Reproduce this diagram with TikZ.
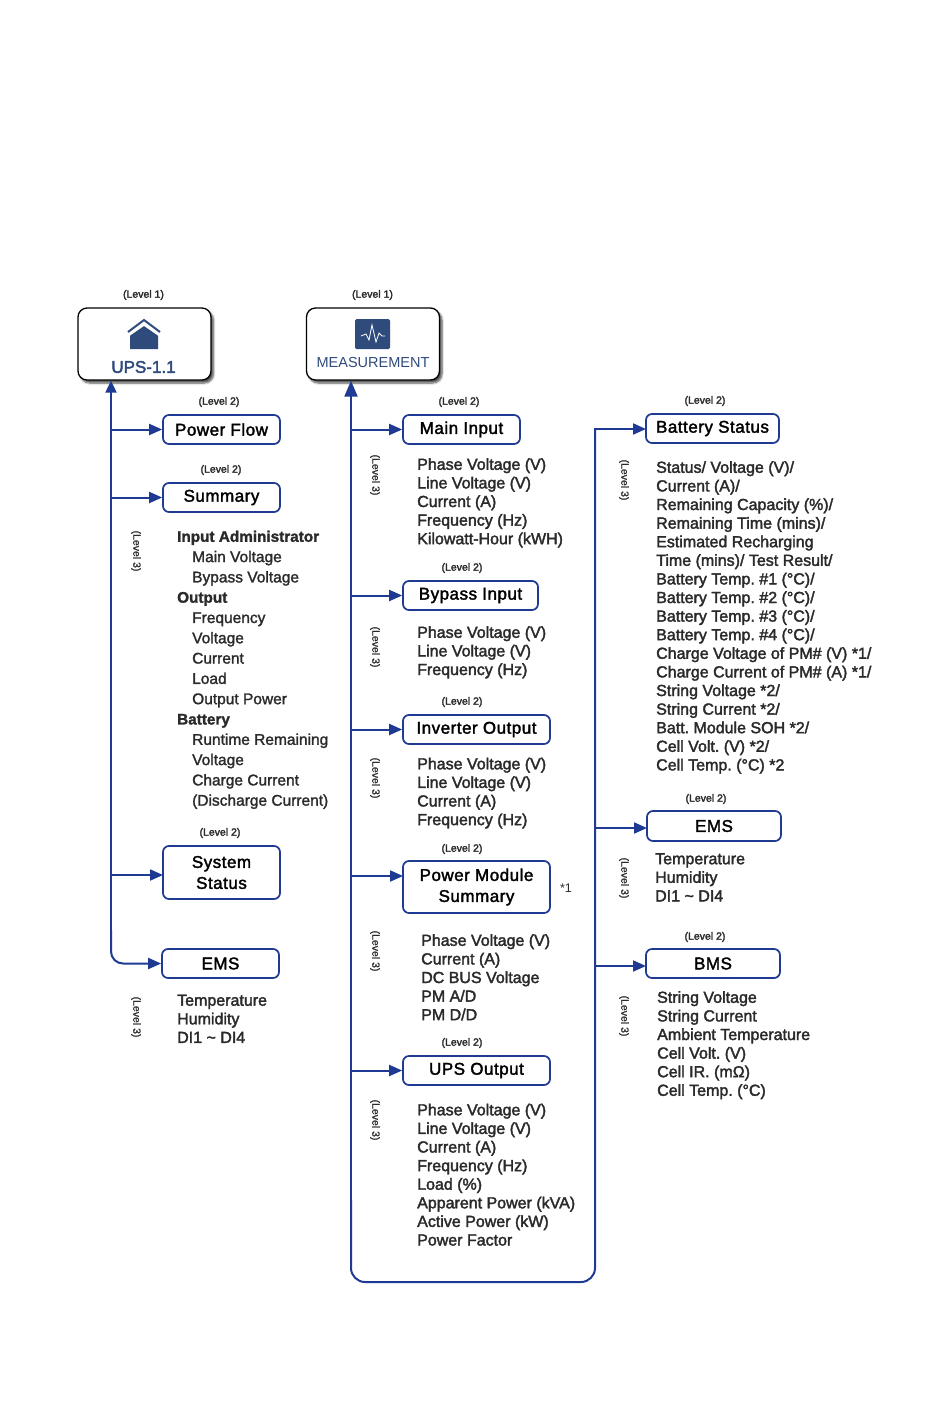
\documentclass[tikz,border=0pt]{standalone}
\usepackage{fontspec}
\setmainfont{Liberation Sans}
\usetikzlibrary{arrows.meta,shadows.blur,calc}
\definecolor{ln}{HTML}{1F3A93}
\definecolor{nav}{HTML}{2F4B7C}
\definecolor{ink}{HTML}{2A2A2A}
\frenchspacing
\tikzset{
 x=1pt,y=-1pt,
 boxn/.style={draw=ln,line width=1.7pt,rounded corners=6pt,fill=white,text=black,align=center,inner sep=0pt,font=\fontsize{17}{21}\selectfont\addfontfeature{FakeBold=2,LetterSpace=3}},
 topn/.style={draw=black,line width=1.3pt,rounded corners=9pt,fill=white,inner sep=0pt,minimum width=133pt,minimum height=72pt,blur shadow={shadow xshift=2.5pt,shadow yshift=-3pt,shadow blur steps=6,shadow blur radius=2pt,shadow opacity=70}},
 lvl/.style={font=\fontsize{10.5}{12}\selectfont\addfontfeature{FakeBold=2.5},text=ink,inner sep=0pt},
 lvlr/.style={font=\fontsize{10.5}{12}\selectfont\addfontfeature{FakeBold=1},text=ink,inner sep=0pt,rotate=-90},
 info/.style={anchor=north west,align=left,inner sep=0pt,text=ink,font=\fontsize{16}{18.6}\selectfont\addfontfeature{FakeBold=2.2}},
 infow/.style={info,font=\fontsize{15.5}{20.3}\selectfont\addfontfeature{FakeBold=1.6}},
 conn/.style={draw=ln,line width=2pt},
 arr/.style={conn,-{Triangle[length=13pt,width=11pt]}},
 arrb/.style={conn,-{Triangle[length=16pt,width=13pt]}},
}
\newcommand{\ind}{\hspace*{15pt}}
\newcommand{\hdr}[1]{{\fontsize{15.3}{20.3}\bfseries #1}}
\begin{document}
\begin{tikzpicture}
\useasboundingbox (0,0) rectangle (950,1406);
% top nodes
\node[topn] (ups) at (144.5,344) {};
\node[topn] (meas) at (373,344) {};
\node[inner sep=0pt,text=nav,font=\fontsize{17}{20}\selectfont\addfontfeature{FakeBold=2.5}] (upst) at (143.5,367) {UPS-1.1};
\node[inner sep=0pt,text=nav,font=\fontsize{14.5}{18}\selectfont] (meast) at (373,363) {MEASUREMENT};
% house icon
\fill[nav] (130,335) -- (144,326) -- (158,335) -- (158,349) -- (130,349) -- cycle;
\draw[nav,line width=2pt] (128,332) -- (144,320) -- (160,332);
\draw[white,line width=1.2pt] (129,335.5) -- (144,325) -- (159,335.5);
% pulse icon
\fill[nav,rounded corners=1.5pt] (355,319) rectangle (390,349);
\draw[white,line width=.8pt] (361,336) -- (366,334) -- (369,340) -- (372,325) -- (376,342) -- (379,333) -- (382,336) -- (385,336);
% level 1
\node[lvl] (l1a) at (143.5,295) {(Level 1)};
\node[lvl] (l1b) at (372.5,295) {(Level 1)};
% left boxes
\node[boxn,minimum width=117pt,minimum height=29pt] (pf) at (221.5,429.5) {Power Flow};
\node[boxn,minimum width=117pt,minimum height=29pt] (sm) at (221.5,497.5) {Summary};
\node[boxn,minimum width=117pt,minimum height=53pt] (ss) at (221.5,872.5) {System\\Status};
\node[boxn,minimum width=117pt,minimum height=29pt] (ems1) at (220.5,963.5) {EMS};
\node[lvl] (l2a) at (219,402) {(Level 2)};
\node[lvl] (l2b) at (221,470) {(Level 2)};
\node[lvl] (l2c) at (220,833) {(Level 2)};
\node[lvlr] (l3a) at (136,551) {(Level 3)};
\node[lvlr] (l3b) at (136,1017) {(Level 3)};
\node[infow] (summ) at (177,530.5) {\hdr{Input Administrator}\\\ind Main Voltage\\\ind Bypass Voltage\\\hdr{Output}\\\ind Frequency\\\ind Voltage\\\ind Current\\\ind Load\\\ind Output Power\\\hdr{Battery}\\\ind Runtime Remaining\\\ind Voltage\\\ind Charge Current\\\ind (Discharge Current)};
\node[info] (emst) at (177,994.5) {Temperature\\Humidity\\DI1 \textasciitilde{} DI4};
% middle boxes
\node[boxn,minimum width=117pt,minimum height=29pt] (mi) at (461.5,429.5) {Main Input};
\node[boxn,minimum width=135pt,minimum height=29pt] (bi) at (470.5,595.5) {Bypass Input};
\node[boxn,minimum width=147pt,minimum height=29pt] (io) at (476.5,729.5) {Inverter Output};
\node[boxn,minimum width=147pt,minimum height=52pt] (pm) at (476.5,887) {Power Module\\Summary};
\node[boxn,minimum width=147pt,minimum height=29pt] (uo) at (476.5,1070.5) {UPS Output};
\node[lvl] (m2a) at (459,402) {(Level 2)};
\node[lvl] (m2b) at (462,568) {(Level 2)};
\node[lvl] (m2c) at (462,702) {(Level 2)};
\node[lvl] (m2d) at (462,849) {(Level 2)};
\node[lvl] (m2e) at (462,1043) {(Level 2)};
\node[lvlr] (m3a) at (375,475) {(Level 3)};
\node[lvlr] (m3b) at (375,647) {(Level 3)};
\node[lvlr] (m3c) at (375,778) {(Level 3)};
\node[lvlr] (m3d) at (375,951) {(Level 3)};
\node[lvlr] (m3e) at (375,1120) {(Level 3)};
\node[info] (t1) at (417,458) {Phase Voltage (V)\\Line Voltage (V)\\Current (A)\\Frequency (Hz)\\Kilowatt-Hour (kWH)};
\node[info] (t2) at (417,626) {Phase Voltage (V)\\Line Voltage (V)\\Frequency (Hz)};
\node[info] (t3) at (417,757.5) {Phase Voltage (V)\\Line Voltage (V)\\Current (A)\\Frequency (Hz)};
\node[info] (t4) at (421,934) {Phase Voltage (V)\\Current (A)\\DC BUS Voltage\\PM A/D\\PM D/D};
\node[info] (t5) at (417,1103.5) {Phase Voltage (V)\\Line Voltage (V)\\Current (A)\\Frequency (Hz)\\Load (\%)\\Apparent Power (kVA)\\Active Power (kW)\\Power Factor};
\node[inner sep=0pt,text=ink,font=\fontsize{12.5}{15}\selectfont] (star) at (566,888) {*1};
% right boxes
\node[boxn,minimum width=133pt,minimum height=29pt] (bs) at (712.5,428.5) {Battery Status};
\node[boxn,minimum width=134pt,minimum height=30pt] (ems2) at (714,826) {EMS};
\node[boxn,minimum width=134pt,minimum height=29pt] (bms) at (713,963.5) {BMS};
\node[lvl] (r2a) at (705,401) {(Level 2)};
\node[lvl] (r2b) at (706,799) {(Level 2)};
\node[lvl] (r2c) at (705,937) {(Level 2)};
\node[lvlr] (r3a) at (624,480) {(Level 3)};
\node[lvlr] (r3b) at (624,878) {(Level 3)};
\node[lvlr] (r3c) at (624,1016) {(Level 3)};
\node[info] (t6) at (656,461) {Status/ Voltage (V)/\\Current (A)/\\Remaining Capacity (\%)/\\Remaining Time (mins)/\\Estimated Recharging\\Time (mins)/ Test Result/\\Battery Temp. \#1 (°C)/\\Battery Temp. \#2 (°C)/\\Battery Temp. \#3 (°C)/\\Battery Temp. \#4 (°C)/\\Charge Voltage of PM\# (V) *1/\\Charge Current of PM\# (A) *1/\\String Voltage *2/\\String Current *2/\\Batt. Module SOH *2/\\Cell Volt. (V) *2/\\Cell Temp. (°C) *2};
\node[info] (t7) at (655,853) {Temperature\\Humidity\\DI1 \textasciitilde{} DI4};
\node[info] (t8) at (657,991) {String Voltage\\String Current\\Ambient Temperature\\Cell Volt. (V)\\Cell IR. (mΩ)\\Cell Temp. (°C)};
% connectors
\coordinate (ssin) at (163,875);
\coordinate (pmin) at (403,876);
\coordinate (emsin) at (647,828);
\coordinate (bmsin) at (646,966);
\coordinate (bsin) at (646,429);
\draw[arr,rounded corners=12pt] (111,930) -- (111,963.5) -- (ems1.west);
\draw[conn,arrows={-{Triangle[length=12pt,width=11pt]}}] (111,940) -- (ups.south -| 111,0);
\foreach \n in {pf,sm,ssin}{\draw[arr] (\n.west -| 111,0) -- (\n.west);}
\coordinate (mb) at (351,1282);
\coordinate (mr) at (595,1282);
\draw[arr] (595,429) -- (bsin);
\draw[conn,rounded corners=14pt] (595,428) -- (mr) -- (mb) -- (351,1200);
\draw[arrb] (351,1210) -- (meas.south -| 351,0);
\foreach \n in {mi,bi,io,pmin,uo}{\draw[arr] (\n.west -| 351,0) -- (\n.west);}
\foreach \n in {emsin,bmsin}{\draw[arr] (\n.west -| 595,0) -- (\n.west);}
\end{tikzpicture}
\end{document}
